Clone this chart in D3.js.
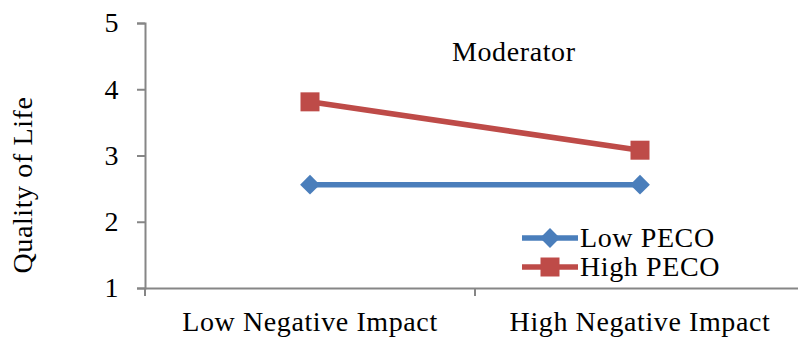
<!DOCTYPE html>
<html>
<head>
<meta charset="utf-8">
<script src="https://cdn.jsdelivr.net/npm/d3@7"></script>
<style>
  html, body { margin: 0; padding: 0; background: #fff; }
  svg { display: block; }
  text { font-family: "Liberation Serif", serif; fill: #000; letter-spacing: 0.6px; }
</style>
</head>
<body>
<svg id="chart" width="798" height="339"></svg>
<script>
const categories = ["Low Negative Impact", "High Negative Impact"];
const seriesNames = ["Low PECO", "High PECO"];
const lowPECO = [2.56, 2.56];
const highPECO = [3.81, 3.08];
const yTicks = [1, 2, 3, 4, 5];
const title = "Moderator";
const yTitle = "Quality of Life";
const colors = ["#4A7EBB", "#BE4B48"];

(function () {
const svg = d3.select("#chart");
const mLeft = 145, mRight = 805, mTop = 23, mBottom = 288;
const fs = 28;

const x = d3.scaleBand().domain(categories).range([mLeft, mRight]).paddingInner(0).paddingOuter(0);
const y = d3.scaleLinear().domain([1, 5]).range([mBottom, mTop]);
const cx = c => x(c) + x.bandwidth() / 2;

const axisColor = "#868686";

// Y axis
const yAxis = svg.append("g").attr("transform", `translate(${mLeft},0)`)
  .call(d3.axisLeft(y).tickValues(yTicks).tickSize(8).tickPadding(18).tickFormat(d3.format("d")));
yAxis.select(".domain").attr("stroke", axisColor).attr("stroke-width", 2);
yAxis.selectAll(".tick line").attr("stroke", axisColor).attr("stroke-width", 2);
yAxis.selectAll(".tick text").attr("font-size", fs).attr("font-family", "Liberation Serif").attr("fill", "#000");

// X axis
const xAxis = svg.append("g").attr("transform", `translate(0,${mBottom})`)
  .call(d3.axisBottom(x).tickSize(0).tickPadding(0).tickFormat(""));
xAxis.select(".domain").attr("stroke", axisColor).attr("stroke-width", 2);
const bounds = [mLeft, x(categories[1])];
svg.append("g").selectAll("line").data(bounds).join("line")
  .attr("x1", d => d).attr("x2", d => d).attr("y1", mBottom).attr("y2", mBottom + 8)
  .attr("stroke", axisColor).attr("stroke-width", 2);
svg.append("g").selectAll("text").data(categories).join("text")
  .attr("x", d => cx(d)).attr("y", 331).attr("text-anchor", "middle")
  .attr("font-size", fs).text(d => d);

// Y title
svg.append("text").attr("transform", "translate(32,185) rotate(-90)")
  .attr("text-anchor", "middle").attr("font-size", fs).text(yTitle);

// Title
svg.append("text").attr("x", 452).attr("y", 61).attr("text-anchor", "start")
  .attr("font-size", fs).text(title);

// Series
const seriesData = [lowPECO, highPECO];
const line = d3.line().x((d, i) => cx(categories[i])).y(d => y(d));
seriesData.forEach((vals, si) => {
  svg.append("path").datum(vals).attr("d", line)
    .attr("fill", "none").attr("stroke", colors[si]).attr("stroke-width", 5.5);
});
const diamond = d3.symbol().type(d3.symbolSquare).size(14 * 14);
const square = d3.symbol().type(d3.symbolSquare).size(19 * 19);
svg.append("g").selectAll("path").data(lowPECO).join("path")
  .attr("d", diamond)
  .attr("transform", (d, i) => `translate(${cx(categories[i])},${y(d)}) rotate(45)`)
  .attr("fill", colors[0]);
svg.append("g").selectAll("path").data(highPECO).join("path")
  .attr("d", square)
  .attr("transform", (d, i) => `translate(${cx(categories[i])},${y(d)})`)
  .attr("fill", colors[1]);

// Legend
const legY = [238, 267];
seriesNames.forEach((name, i) => {
  const g = svg.append("g");
  g.append("line").attr("x1", 522).attr("x2", 578).attr("y1", legY[i]).attr("y2", legY[i])
    .attr("stroke", colors[i]).attr("stroke-width", 5.5);
  g.append("path").attr("d", i === 0 ? diamond : square)
    .attr("transform", `translate(550,${legY[i]})` + (i === 0 ? " rotate(45)" : ""))
    .attr("fill", colors[i]);
  g.append("text").attr("x", 580).attr("y", legY[i] + 9).attr("font-size", fs).text(name);
});
})();
</script>
</body>
</html>
